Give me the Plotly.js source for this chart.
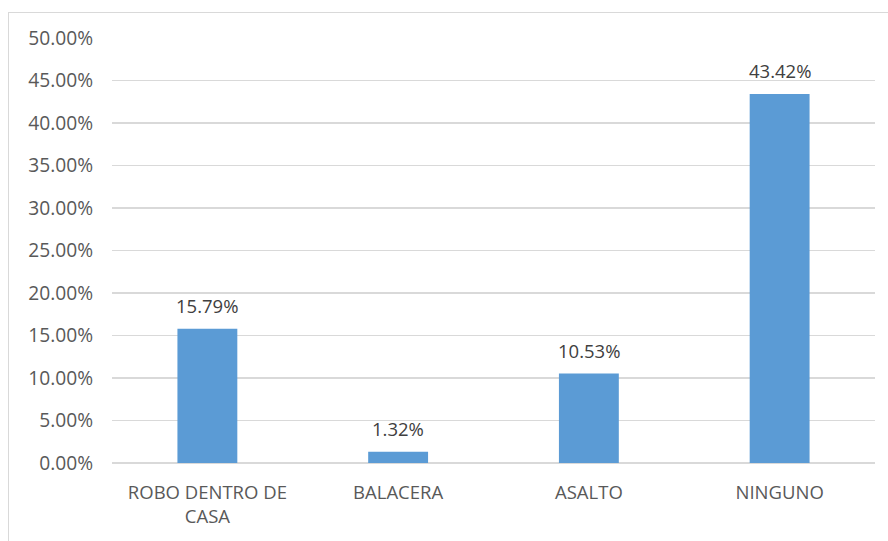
<!DOCTYPE html>
<html><head><meta charset="utf-8">
<script src="https://cdn.plot.ly/plotly-3.0.1.min.js"></script>
<style>
html,body{margin:0;padding:0;background:#fff;}
#wrap{position:relative;width:888px;height:541px;overflow:hidden;}
#frame{position:absolute;left:8px;top:12px;width:900px;height:560px;border:1.5px solid #d9d9d9;box-sizing:border-box;pointer-events:none;}
#chart{position:absolute;left:0;top:0;width:888px;height:541px;}
</style></head>
<body><div id="wrap"><div id="chart"></div><div id="frame"></div></div>
<script>
const categories = ["ROBO DENTRO DE<br>CASA", "BALACERA", "ASALTO", "NINGUNO"];
const values = [0.1579, 0.0132, 0.1053, 0.4342];
const yTickVals = [0, 0.05, 0.10, 0.15, 0.20, 0.25, 0.30, 0.35, 0.40, 0.45, 0.50];

const fam = "'Open Sans', 'Noto Sans', sans-serif";
const font = {family: fam, size: 18.5, color: "#595959"};
const yfont = {family: fam, size: 19.2, color: "#595959"};
const annotations = categories.map((c, i) => ({
  x: c, y: values[i], xref: "x", yref: "y",
  text: (values[i] * 100).toFixed(2) + "%",
  showarrow: false, yanchor: "bottom", yshift: 9,
  font: {family: fam, size: 18.5, color: "#404040"}
}));
Plotly.newPlot("chart", [{
  type: "bar",
  x: categories,
  y: values,
  marker: {color: "#5B9BD5"},
  hoverinfo: "skip"
}], {
  width: 888, height: 541,
  margin: {l: 112, r: 13, t: 38, b: 78, pad: 0},
  paper_bgcolor: "rgba(0,0,0,0)", plot_bgcolor: "#fff",
  bargap: 0.686,
  showlegend: false,
  font: font,
  annotations: annotations,
  xaxis: {type: "category", showgrid: false, zeroline: false, showline: false, ticks: "", tickfont: font, ticklabelstandoff: 16, fixedrange: true},
  yaxis: {range: [0, 0.5], tickvals: yTickVals, tickformat: ".2%", showgrid: true, gridcolor: "#d9d9d9", gridwidth: 1.3, zeroline: true, zerolinecolor: "#d9d9d9", zerolinewidth: 1.3, showline: false, ticks: "", tickfont: yfont, ticklabelstandoff: 18, fixedrange: true}
}, {displayModeBar: false, staticPlot: true});
</script></body></html>
